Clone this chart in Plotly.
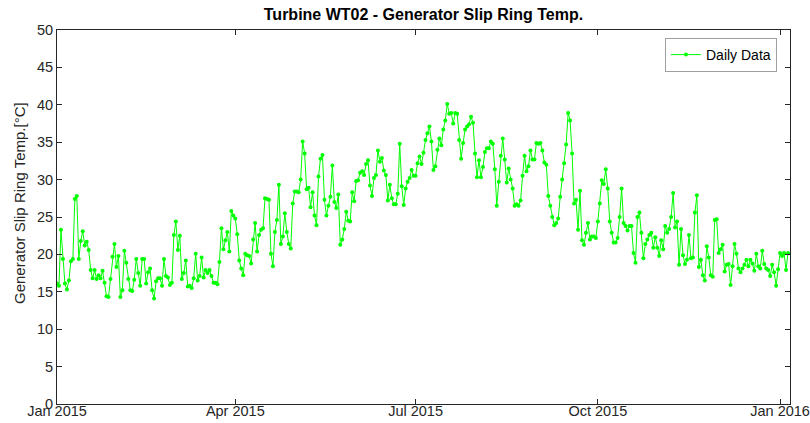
import pandas as pd
import plotly.graph_objects as go

start_date = "2015-01-01"
temps = [
    16.1, 15.8, 23.3, 19.4, 16.1, 15.3, 16.5, 19.1, 19.4, 27.4,
    27.8, 19.4, 21.8, 23.1, 21.2, 21.7, 20.6, 17.9, 16.8, 17.9,
    16.7, 17.2, 16.8, 17.8, 16.2, 14.4, 14.3, 16.7, 19.7, 21.4,
    18.3, 19.8, 14.3, 15.2, 20.5, 18.9, 16.7, 15.2, 15.1, 16.6,
    19.4, 17.5, 15.8, 19.4, 19.4, 16.1, 17.6, 18.1, 15.2, 14.1,
    16.4, 16.8, 16.8, 15.8, 19.4, 17.1, 16.9, 15.9, 16.2, 22.6,
    24.4, 20.6, 22.5, 16.7, 17.5, 19.2, 15.7, 15.8, 15.5, 16.8,
    20.1, 16.5, 17.1, 19.6, 16.9, 17.9, 17.5, 17.9, 17.1, 16.2,
    16.2, 16.0, 19.0, 23.5, 20.7, 21.9, 23.0, 20.4, 25.8, 25.2,
    24.8, 22.7, 19.2, 18.1, 17.2, 20.1, 19.9, 19.8, 18.8, 22.0,
    24.2, 20.4, 22.6, 23.3, 23.5, 27.5, 27.4, 27.3, 20.1, 18.4,
    23.0, 24.6, 29.3, 21.4, 22.4, 25.5, 23.0, 21.4, 20.8, 26.8,
    28.4, 28.4, 28.3, 30.0, 35.1, 33.5, 28.7, 28.9, 26.3, 28.3,
    25.2, 23.9, 30.4, 32.8, 33.3, 27.3, 25.2, 26.5, 27.7, 31.9,
    27.0, 26.2, 28.0, 21.3, 22.0, 23.4, 25.7, 24.5, 24.4, 28.3,
    27.1, 29.8, 29.9, 30.9, 31.1, 30.6, 32.1, 32.6, 29.2, 27.8,
    30.2, 30.6, 33.9, 32.4, 32.9, 31.2, 30.6, 27.2, 29.3, 27.5,
    26.7, 26.7, 28.1, 34.8, 29.1, 26.6, 28.8, 29.7, 30.2, 31.3,
    30.5, 30.5, 32.2, 33.1, 32.1, 33.6, 35.3, 36.2, 37.1, 35.1,
    31.3, 31.8, 34.0, 35.5, 34.6, 36.7, 37.9, 40.1, 38.8, 38.9,
    37.5, 38.9, 38.8, 35.3, 32.8, 34.9, 36.7, 37.1, 37.4, 38.4,
    37.6, 33.5, 30.3, 32.6, 30.3, 31.7, 33.7, 34.2, 34.2, 35.1,
    34.8, 31.4, 26.5, 29.7, 33.2, 35.5, 32.7, 29.6, 31.5, 30.0,
    28.8, 26.5, 26.7, 26.5, 27.2, 30.5, 33.2, 31.1, 31.8, 33.9,
    32.7, 32.7, 34.9, 34.8, 34.9, 33.9, 32.3, 32.0, 27.8, 26.5,
    25.0, 23.9, 24.2, 24.8, 27.7, 30.0, 32.2, 34.7, 38.9, 37.9,
    33.5, 26.8, 27.3, 23.3, 28.5, 21.9, 21.3, 22.9, 24.2, 22.0,
    22.4, 22.4, 22.2, 24.4, 26.8, 29.9, 29.4, 31.4, 28.8, 24.4,
    22.9, 21.6, 21.6, 22.2, 25.0, 28.8, 24.2, 23.8, 23.2, 23.8,
    23.8, 20.2, 18.9, 25.0, 25.6, 22.9, 19.5, 21.4, 22.0, 22.6,
    22.9, 20.9, 22.3, 20.9, 19.8, 21.9, 20.7, 23.8, 22.9, 23.4,
    25.0, 28.2, 23.6, 24.4, 18.6, 23.4, 19.9, 18.7, 19.3, 22.6,
    19.5, 19.6, 25.6, 27.9, 18.3, 19.3, 17.2, 16.5, 21.1, 19.6,
    17.2, 17.0, 24.6, 24.7, 20.2, 20.7, 21.3, 17.7, 18.6, 18.7,
    15.9, 18.4, 21.4, 20.1, 18.1, 17.6, 18.1, 18.6, 19.3, 18.4,
    19.3, 18.8, 17.8, 20.1, 18.4, 18.1, 20.5, 18.7, 18.1, 17.9,
    17.1, 18.6, 17.6, 15.8, 18.0, 20.2, 19.8, 20.2, 17.9, 20.2,
]
tick_dates = ["2015-01-01", "2015-04-01", "2015-07-01", "2015-10-01", "2016-01-01"]
tick_labels = ["Jan 2015", "Apr 2015", "Jul 2015", "Oct 2015", "Jan 2016"]
y_ticks = [0, 5, 10, 15, 20, 25, 30, 35, 40, 45, 50]

dates = pd.date_range(start_date, periods=len(temps), freq="D")

FONT = "Liberation Sans, Arial, sans-serif"
AX = "#262626"

W, H = 810, 423
L, R, T, B = 57, 20, 30, 19
PW, PH = W - L - R, H - T - B

fig = go.Figure()
fig.add_trace(go.Scatter(
    x=dates, y=temps, mode="lines+markers", name="Daily Data",
    line=dict(color="#00ff00", width=1),
    marker=dict(color="#00ff00", size=4),
))

fig.update_layout(
    width=W, height=H,
    margin=dict(l=L, r=R, t=T, b=B, autoexpand=False),
    paper_bgcolor="white", plot_bgcolor="white",
    font=dict(family=FONT, size=14, color=AX),
    title=dict(text="<b>Turbine WT02 - Generator Slip Ring Temp.</b>",
               x=0.5, xref="paper", y=1 - 14 / H, yref="container",
               xanchor="center", yanchor="middle",
               font=dict(family=FONT, size=16, color="black")),
    showlegend=True,
    legend=dict(x=(777 - 57) / PW, y=1 - (38 - 30) / PH, xanchor="right", yanchor="top",
                bgcolor="white", bordercolor="#a0a0a0", borderwidth=1,
                font=dict(family=FONT, size=14, color="black")),
    xaxis=dict(type="date", range=["2015-01-01", "2016-01-06"],
               tickvals=tick_dates, ticktext=tick_labels,
               ticks="inside", ticklen=5, tickcolor=AX,
               ticklabelstandoff=-6,
               showline=True, linecolor=AX, linewidth=1, mirror="ticks",
               showgrid=False, zeroline=False,
               tickfont=dict(family=FONT, size=14.5, color=AX)),
    yaxis=dict(range=[0, 50], tickvals=y_ticks,
               ticks="inside", ticklen=5, tickcolor=AX,
               showline=True, linecolor=AX, linewidth=1, mirror="ticks",
               showgrid=False, zeroline=False,
               tickfont=dict(family=FONT, size=14.5, color=AX)),
)
fig.add_annotation(text="Generator Slip Ring Temp.[°C]", textangle=-90,
                   xref="paper", yref="paper", x=-37 / PW, y=(404 - 203) / PH,
                   xanchor="center", yanchor="middle", showarrow=False,
                   font=dict(family=FONT, size=15, color=AX))

fig.write_html("out.html", config={"displayModeBar": False},
               post_script="document.body.style.margin='0';document.body.style.overflow='hidden';")
